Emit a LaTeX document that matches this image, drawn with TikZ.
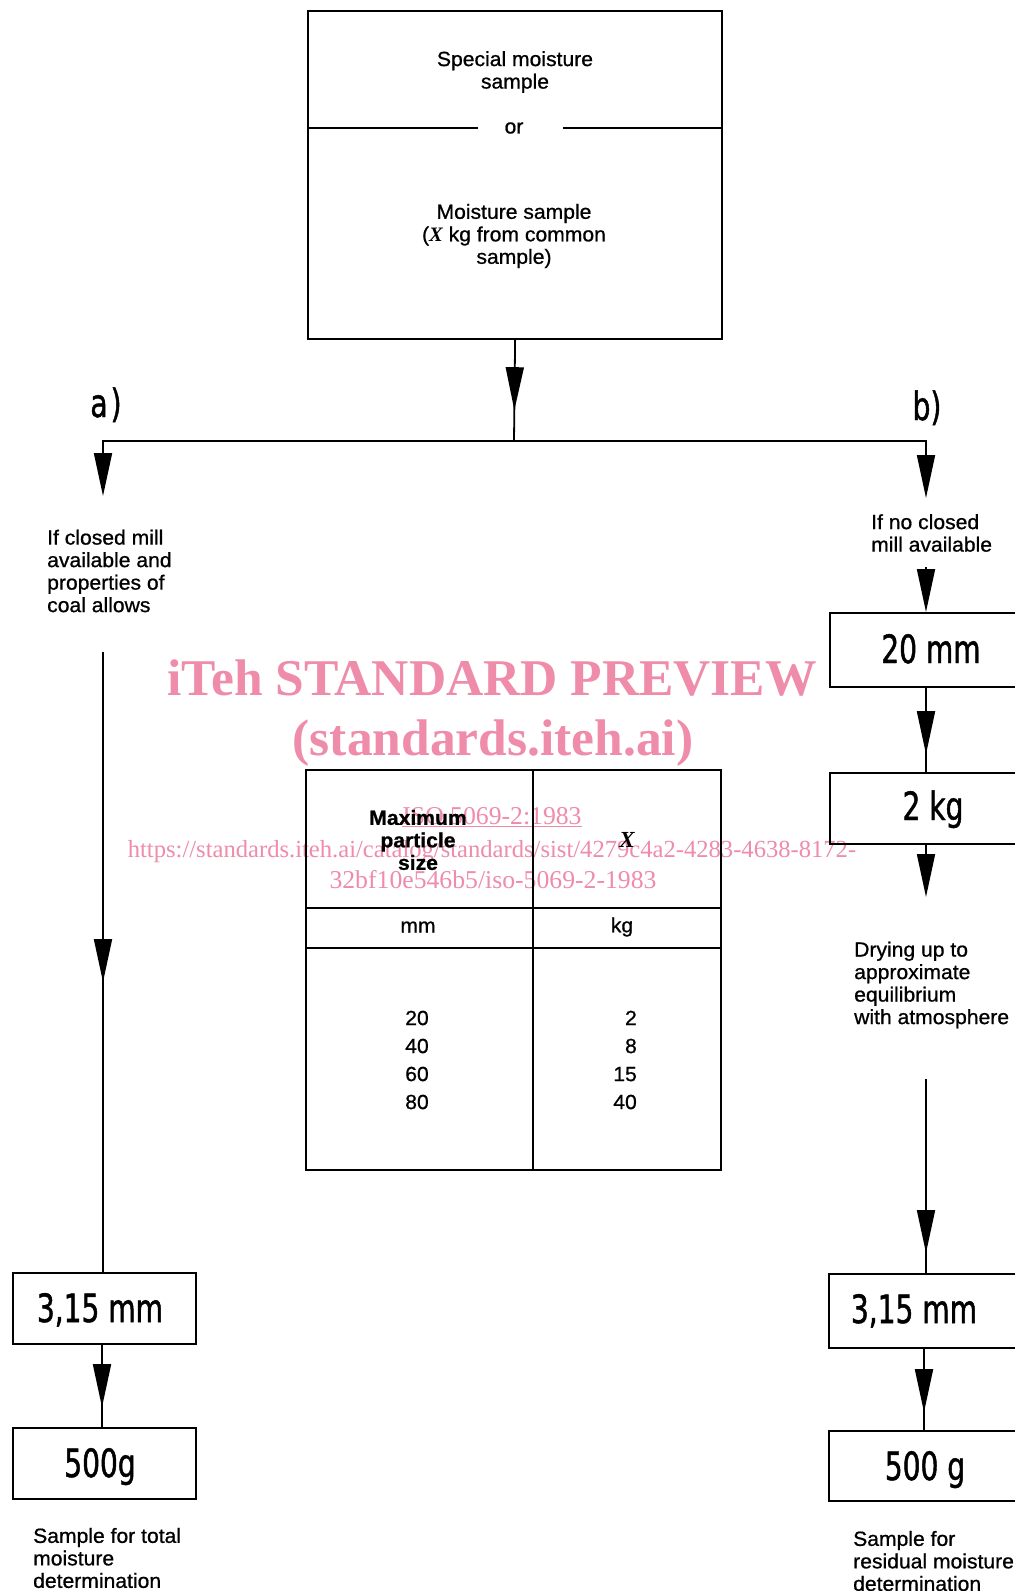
\documentclass[tikz,border=0pt]{standalone}
\usepackage{fontspec}
\setmainfont[FakeStretch=1.03,FakeBold=0.8]{Liberation Sans}
\newfontfamily\boxfont[FakeStretch=0.72,FakeBold=1.2]{DejaVu Sans}
\newfontfamily\wmfont{Liberation Serif}
\newcommand{\varX}{{\wmfont\bfseries\itshape X}}
\usetikzlibrary{arrows.meta,decorations.markings}
\definecolor{wm}{RGB}{238,140,170}
\tikzset{
  tri/.tip={Triangle[length=43pt,width=18pt]},
  flow/.style={line width=1.8pt},
  arrowat/.style={postaction={decorate},
    decoration={markings, mark=at position #1 with {\arrow{tri}}}},
  boxnode/.style={draw, line width=2.2pt, inner sep=0pt, anchor=north west},
  txt/.style={font=\fontsize{20.5}{22.5}\selectfont, inner sep=0pt, align=left, anchor=west},
  ctxt/.style={font=\fontsize{20.5}{22.5}\selectfont, inner sep=0pt, align=center},
  boxlbl/.style={font=\boxfont\fontsize{39}{40}\selectfont, inner sep=0pt, anchor=base},
  wmbig/.style={text=wm, font=\wmfont\bfseries\fontsize{51.5}{55}\selectfont, inner sep=0pt, anchor=base},
  wmsmall/.style={text=wm, font=\wmfont\fontsize{25.7}{28}\selectfont, inner sep=0pt, anchor=base},
}
\begin{document}
\begin{tikzpicture}[x=1pt,y=-1pt]
\useasboundingbox (0,0) rectangle (1015,1591);
\clip (0,0) rectangle (1015,1591);
\fill[white] (0,0) rectangle (1015,1591);

% watermark
\node[wmbig] (wm1) at (492,695) {iTeh STANDARD PREVIEW};
\node[wmbig] (wm2) at (493,755) {(standards.iteh.ai)};
\node[wmsmall] (wm3) at (492,824) {\underline{ISO 5069-2:1983}};
\node[wmsmall, font=\wmfont\fontsize{24.6}{28}\selectfont] (wm4) at (492,857) {https://standards.iteh.ai/catalog/standards/sist/4279c4a2-4283-4638-8172-};
\node[wmsmall] (wm5) at (493,888) {32bf10e546b5/iso-5069-2-1983};

% top box
\node[boxnode, minimum width=414pt, minimum height=328pt] (top) at (307,10) {};
\node[ctxt] (t1) at (515,72) {Special moisture\\sample};
\node[ctxt] (tor) at (514,128) {or};
\coordinate (or1) at (478,128);
\coordinate (or2) at (563,128);
\draw[line width=2pt] (top.west |- or1) -- (or1);
\draw[line width=2pt] (or2) -- (top.east |- or2);
\node[ctxt] (t2) at (514,236) {Moisture sample\\(\varX{} kg from common\\sample)};

% branching
\coordinate (junc) at (514,441);
\draw[flow, arrowat=70pt] (top.south) -- (junc);
\coordinate (lc) at (103,441);
\coordinate (rc) at (926,441);
\coordinate (lt) at (103,496);
\coordinate (rt) at (926,498);
\draw[flow, {tri}-{tri}] (lt) -- (lc) -- (rc) -- (rt);
\node[boxlbl] (la) at (106,417) {a\kern3pt)};
\node[boxlbl] (lb) at (927,420) {b)};

% left branch
\node[txt] (lcond) at (47,571) {If closed mill\\available and\\properties of\\coal allows};
\node[boxnode, minimum width=183pt, minimum height=71pt] (L1) at (12,1272) {};
\node[boxnode, minimum width=183pt, minimum height=71pt] (L2) at (12,1427) {};
\node[boxlbl] (L1t) at (100,1322) {3,15 mm};
\node[boxlbl] (L2t) at (100,1477) {500g};
\coordinate (ls) at (103,652);
\draw[flow, arrowat=330pt] (ls) -- (ls |- L1.north);
\coordinate (lx) at (102,1400);
\draw[flow, arrowat=62pt] (L1.south -| lx) -- (L2.north -| lx);
\node[txt] (lres) at (33,1558) {Sample for total\\moisture\\determination};

% right branch
\node[txt] (rcond) at (871,533) {If no closed\\mill available};
\node[boxnode, minimum width=206pt, minimum height=74pt] (R1) at (829,612) {};
\node[boxnode, minimum width=206pt, minimum height=71pt] (R2) at (829,772) {};
\node[boxnode, minimum width=207pt, minimum height=74pt] (R3) at (828,1273) {};
\node[boxnode, minimum width=207pt, minimum height=70pt] (R4) at (828,1430) {};
\node[boxlbl] (R1t) at (931,663) {20 mm};
\node[boxlbl] (R2t) at (933,820) {2 kg};
\node[boxlbl] (R3t) at (914,1323) {3,15 mm};
\node[boxlbl] (R4t) at (925,1480) {500 g};
\coordinate (rs) at (926,567);
\draw[flow, -{tri}] (rs) -- (rs |- R1.north);
\draw[flow, arrowat=66pt] (R1.south -| rs) -- (R2.north -| rs);
\coordinate (rd) at (926,897);
\draw[flow, -{tri}] (R2.south -| rd) -- (rd);
\node[txt] (rdry) at (854,985) {Drying up to\\approximate\\equilibrium\\with atmosphere};
\coordinate (re) at (926,1079);
\draw[flow, arrowat=174pt] (re) -- (re |- R3.north);
\coordinate (rx) at (924,1400);
\draw[flow, arrowat=63pt] (R3.south -| rx) -- (R4.north -| rx);
\node[txt] (rres) at (853,1561) {Sample for\\residual moisture\\determination};

% table
\node[boxnode, minimum width=415pt, minimum height=400pt] (tbl) at (305,769) {};
\coordinate (cx) at (533,800);
\coordinate (r1) at (400,908);
\coordinate (r2) at (400,948);
\draw[line width=2.2pt] (tbl.north -| cx) -- (tbl.south -| cx);
\draw[line width=2.2pt] (tbl.west |- r1) -- (tbl.east |- r1);
\draw[line width=2.2pt] (tbl.west |- r2) -- (tbl.east |- r2);
\node[ctxt, font=\bfseries\fontsize{20.5}{22.5}\selectfont] (h1) at (418,840) {Maximum\\particle\\size};
\node[ctxt, font=\fontsize{23}{24}\selectfont] (h2) at (627,840) {\varX};
\node[ctxt] (u1) at (418,927) {mm};
\node[ctxt] (u2) at (622,927) {kg};
\node[ctxt, font=\fontsize{20.5}{28}\selectfont] (c1) at (417,1060) {20\\40\\60\\80};
\node[ctxt, align=right, anchor=east, font=\fontsize{20.5}{28}\selectfont] (c2) at (637,1060) {2\\8\\15\\40};
\end{tikzpicture}
\end{document}
